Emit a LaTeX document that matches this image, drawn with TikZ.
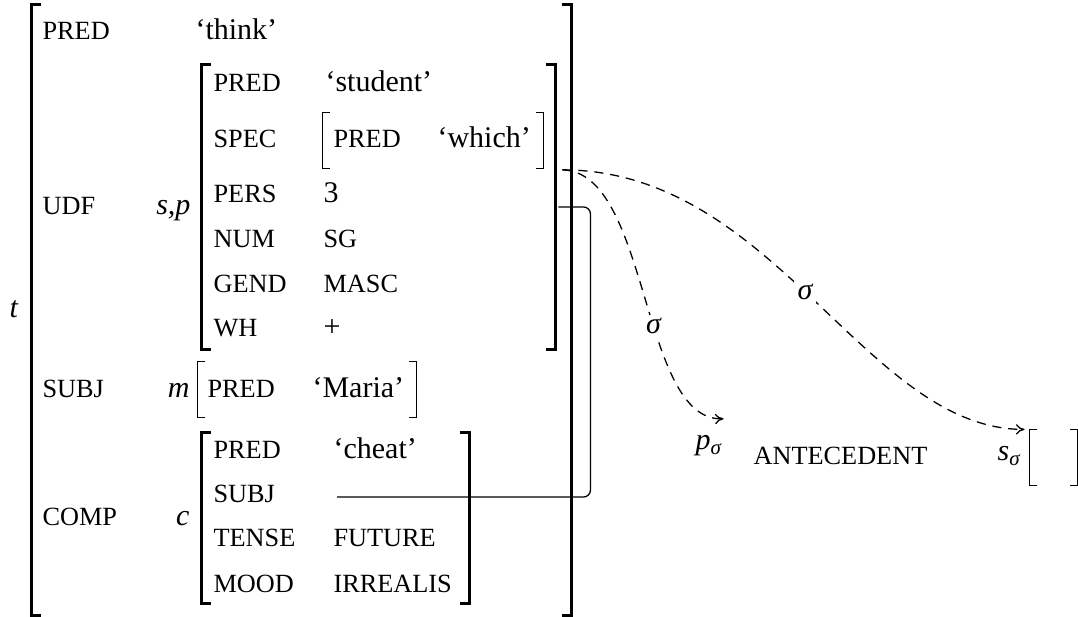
\documentclass[tikz,border=0pt]{standalone}
\usepackage{fontspec}
\setmainfont{Liberation Serif}
\usetikzlibrary{positioning,fit,arrows.meta}

\newcommand\valfont{\fontsize{10.5}{12}\selectfont}
\newcommand\attrfont{\fontsize{9.2}{11}\selectfont}

\begin{document}
\begin{tikzpicture}[
x=3.5pt, y=-3.5pt,
>={To[length=3pt,width=3.6pt]},
attr/.style={anchor=base west, inner sep=0pt, font=\attrfont},
val/.style={anchor=base west, inner sep=0pt, font=\valfont},
tag/.style={anchor=base east, inner sep=0pt, font=\valfont\itshape},
frame/.style={inner sep=0pt},
brk/.style={line width=0.8pt},
smallbrk/.style={line width=0.5pt},
link/.style={line width=0.45pt},
proj/.style={link, ->, dash pattern=on 3.2pt off 2.4pt},
siglabel/.style={fill=white, inner sep=1.2pt, font=\valfont\itshape}
]
\useasboundingbox (0,0) rectangle (107.8,61.7);

%%%%%%%%%%%%%%%%%%%%%%%%%%%%%%%%%%%%
% f-structure t
%%%%%%%%%%%%%%%%%%%%%%%%%%%%%%%%%%%%

\node[frame, fit={(3.2,0.5) (57.1,61.5)}] (tf) {};
\node[tag] (ttag) at (1.85,31.8) {t};

\node[attr] (tpred) at (4.2,4.0) {PRED};
\node[val] (think) at (19.5,4.0) {‘think’};

\node[attr] (udf) at (4.2,21.5) {UDF};
\node[tag] (sptag) at (19.1,21.5) {s,p};

\node[attr] (tsubj) at (4.2,39.8) {SUBJ};
\node[tag] (mtag) at (19.0,39.8) {m};

\node[attr] (comp) at (4.2,52.6) {COMP};
\node[tag] (ctag) at (19.0,52.6) {c};

%%%%%%%%%%%%%%%%%%%%%%%%%%%%%%%%%%%%
% UDF value
%%%%%%%%%%%%%%%%%%%%%%%%%%%%%%%%%%%%

\node[frame, fit={(20.2,6.5) (55.5,34.9)}] (sp) {};

\node[attr] (sppred) at (21.3,9.2) {PRED};
\node[val] (student) at (32.5,9.2) {‘student’};

\node[attr] (spec) at (21.3,14.8) {SPEC};
\node[frame, fit={(32.3,11.3) (54.3,16.8)}] (specf) {};
\node[attr] (specpred) at (33.3,14.8) {PRED};
\node[val] (which) at (43.7,14.8) {‘which’};

\node[attr] (pers) at (21.3,20.3) {PERS};
\node[val] (three) at (32.3,20.3) {3};

\node[attr] (num) at (21.3,24.8) {NUM};
\node[attr] (sg) at (32.3,24.8) {SG};

\node[attr] (gend) at (21.3,29.3) {GEND};
\node[attr] (masc) at (32.3,29.3) {MASC};

\node[attr] (wh) at (21.3,33.7) {WH};
\node[val] (plus) at (32.3,33.7) {+};

%%%%%%%%%%%%%%%%%%%%%%%%%%%%%%%%%%%%
% SUBJ value
%%%%%%%%%%%%%%%%%%%%%%%%%%%%%%%%%%%%

\node[frame, fit={(19.8,36.2) (41.6,41.7)}] (mf) {};
\node[attr] (mpred) at (20.7,39.8) {PRED};
\node[val] (maria) at (31.2,39.8) {‘Maria’};

%%%%%%%%%%%%%%%%%%%%%%%%%%%%%%%%%%%%
% COMP value
%%%%%%%%%%%%%%%%%%%%%%%%%%%%%%%%%%%%

\node[frame, fit={(20.2,43.3) (46.9,60.3)}] (cf) {};

\node[attr] (cpred) at (21.3,45.9) {PRED};
\node[val] (cheat) at (33.3,45.9) {‘cheat’};

\node[attr] (csubj) at (21.3,50.3) {SUBJ};
\coordinate (csubjval) at (33.7,49.7);

\node[attr] (tense) at (21.3,54.7) {TENSE};
\node[attr] (future) at (33.3,54.7) {FUTURE};

\node[attr] (mood) at (21.3,59.2) {MOOD};
\node[attr] (irrealis) at (33.3,59.2) {IRREALIS};

%%%%%%%%%%%%%%%%%%%%%%%%%%%%%%%%%%%%
% Semantic structures
%%%%%%%%%%%%%%%%%%%%%%%%%%%%%%%%%%%%

\node[val] (psig) at (69.5,45.0) {\textit{p}\textsubscript{\textit{σ}}};
\node[attr] (ante) at (75.3,46.5) {ANTECEDENT};
\node[val] (ssig) at (99.7,46.1) {\textit{s}\textsubscript{\textit{σ}}};
\node[frame, fit={(103.0,43.0) (107.7,48.5)}] (sf) {};

%%%%%%%%%%%%%%%%%%%%%%%%%%%%%%%%%%%%
% Brackets
%%%%%%%%%%%%%%%%%%%%%%%%%%%%%%%%%%%%

\foreach \f in {tf,sp,cf}
  \draw[brk] ([xshift=3.5pt]\f.north west) -- (\f.north west) -- (\f.south west) -- ([xshift=3.5pt]\f.south west)
             ([xshift=-3.5pt]\f.north east) -- (\f.north east) -- (\f.south east) -- ([xshift=-3.5pt]\f.south east);

\foreach \f in {specf,mf,sf}
  \draw[smallbrk] ([xshift=2.6pt]\f.north west) -- (\f.north west) -- (\f.south west) -- ([xshift=2.6pt]\f.south west)
                  ([xshift=-2.6pt]\f.north east) -- (\f.north east) -- (\f.south east) -- ([xshift=-2.6pt]\f.south east);

%%%%%%%%%%%%%%%%%%%%%%%%%%%%%%%%%%%%
% Connections
%%%%%%%%%%%%%%%%%%%%%%%%%%%%%%%%%%%%

\draw[link, rounded corners=2.4pt] (csubjval) -| ([xshift=12.2pt]sp.east) -- ([xshift=1pt]sp.east);

\coordinate (src) at ([xshift=2.4pt,yshift=13pt]sp.east);

\draw[proj] (src) .. controls (65.0,17.2) and (64.0,42.2) .. ([yshift=5.8pt]psig.north east)
  node[siglabel, pos=0.58] {σ};

\draw[proj] (src) .. controls (77.5,17.0) and (86.5,42.9) .. ([xshift=-1.7pt]sf.north west)
  node[siglabel, pos=0.48] {σ};

\end{tikzpicture}
\end{document}
